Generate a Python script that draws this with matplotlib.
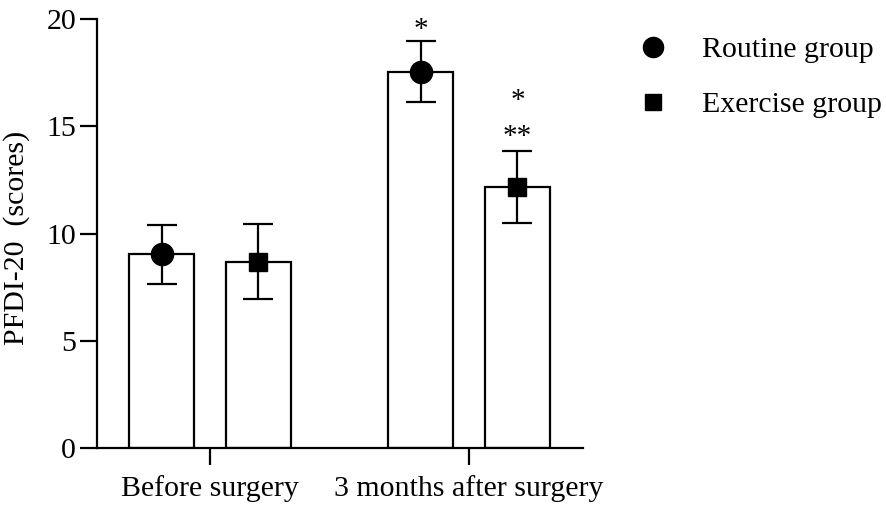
import numpy as np
import matplotlib
matplotlib.use('Agg')
import matplotlib.pyplot as plt
from matplotlib.lines import Line2D

plt.rcParams['font.family'] = ['Liberation Serif', 'DejaVu Serif']

groups = ['Before surgery', '3 months after surgery']
routine_mean = [9.03, 17.54]
routine_sd = [1.36, 1.42]
exercise_mean = [8.70, 12.18]
exercise_sd = [1.73, 1.66]
stars_routine = ['', '*']
stars_exercise = ['', '*\n**']

x = np.arange(len(groups))
off = 0.187
w = 0.251

fig = plt.figure(figsize=(8.86, 5.15), dpi=100)
ax = fig.add_axes([0.1095, 0.1295, 0.5485, 0.8335])

ax.bar(x - off, routine_mean, w, color='white', edgecolor='black', linewidth=1.6, zorder=1)
ax.bar(x + off, exercise_mean, w, color='white', edgecolor='black', linewidth=1.6, zorder=1)
ax.errorbar(x - off, routine_mean, yerr=routine_sd, fmt='o', color='black', ms=16,
            capsize=11, elinewidth=1.6, capthick=1.6, zorder=3)
ax.errorbar(x + off, exercise_mean, yerr=exercise_sd, fmt='s', color='black', ms=13,
            capsize=11, elinewidth=1.6, capthick=1.6, zorder=3)

for i in range(len(groups)):
    if stars_routine[i]:
        ax.text(x[i] - off, routine_mean[i] + routine_sd[i] - 0.08, stars_routine[i],
                ha='center', va='bottom', fontsize=21)
    if stars_exercise[i]:
        ax.text(x[i] + off, exercise_mean[i] + exercise_sd[i] + 0.06, stars_exercise[i],
                ha='center', va='bottom', fontsize=21, linespacing=1.5)

ax.set_xlim(-0.436, 1.440)
ax.set_ylim(0, 20)
ax.set_yticks([0, 5, 10, 15, 20])
ax.set_xticks(x)
ax.set_xticklabels(groups)
ax.tick_params(axis='both', labelsize=21.5, width=1.6, length=12, color='black')
ax.tick_params(axis='x', pad=7)
ax.tick_params(axis='y', pad=3)
ax.spines['top'].set_visible(False)
ax.spines['right'].set_visible(False)
ax.spines['left'].set_linewidth(1.6)
ax.spines['bottom'].set_linewidth(1.6)
ax.set_ylabel('PFDI-20  (scores)', fontsize=21.5)
ax.yaxis.set_label_coords(-0.137, 0.49)

handles = [Line2D([], [], marker='o', color='black', ls='none', ms=14.5),
           Line2D([], [], marker='s', color='black', ls='none', ms=11.5)]
fig.legend(handles, ['Routine group', 'Exercise group'], loc='upper left',
           bbox_to_anchor=(0.690, 0.982), frameon=False, fontsize=21.5,
           handlelength=1.0, handletextpad=1.13, labelspacing=0.95)

fig.savefig('out.png', dpi=100)
